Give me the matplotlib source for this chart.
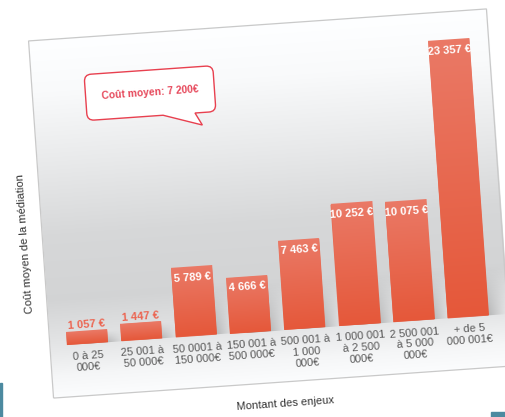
import numpy as np
import matplotlib
matplotlib.use("Agg")
import matplotlib.pyplot as plt
from matplotlib.transforms import Affine2D
from matplotlib.patches import Rectangle, PathPatch
from matplotlib.path import Path

plt.rcParams['font.family'] = ['Liberation Sans', 'DejaVu Sans']

# cost of mediation by amount at stake
categories = ["0 à 25\n000€", "25 001 à\n50 000€", "50 0001 à\n150 000€", "150 001 à\n500 000€",
              "500 001 à\n1 000\n000€", "1 000 001\nà 2 500\n000€", "2 500 001\nà 5 000\n000€",
              "+ de 5\n000 001€"]
values = [1057, 1447, 5789, 4666, 7463, 10252, 10075, 23357]
value_labels = ["1 057 €", "1 447 €", "5 789 €", "4 666 €", "7 463 €", "10 252 €", "10 075 €", "23 357 €"]
avg_label = "Coût moyen: 7 200€"
xlabel = "Montant des enjeux"
ylabel = "Coût moyen de la médiation"

W, H = 506, 417
ANG = 4.0  # the whole chart sits tilted on the page

fig = plt.figure(figsize=(W / 100, H / 100), dpi=100)
fig.patch.set_facecolor('white')
ax = fig.add_axes([40.5 / W, 34.5 / H, 459 / W, 358 / H])
ax.set_axis_off()
ax.set_autoscale_on(False)
ax.set_xlim(-0.692, 7.730)
ax.set_ylim(-4372, 25788)

pos = ax.get_position()
cx = (pos.x0 + pos.width / 2) * W
cy = (pos.y0 + pos.height / 2) * H
rot = Affine2D().rotate_deg_around(cx, cy, ANG)
tdata = ax.transData + rot
taxes = ax.transAxes + rot


def shifted(base, dx, dy):
    return base + Affine2D().translate(dx, dy) + rot


def rgba_column(rgb, n_cols=8):
    # vertical colour ramp as an RGBA block, opaque
    out = np.ones((rgb.shape[0], n_cols, 4))
    out[..., :3] = rgb[:, None, :]
    return out


# background: white top, grey band behind bars, fading out under the labels
stops_y = [0.0, 0.06, 0.145, 0.27, 0.45, 0.65, 0.85, 1.0]
stops_g = [0.99, 0.965, 0.9, 0.83, 0.845, 0.915, 0.98, 1.0]
yy = np.linspace(0, 1, 300)
g = np.interp(yy, stops_y, stops_g)
bg = rgba_column(np.stack([g - 0.004, g, g + 0.004], axis=-1).clip(0, 1))
ax.imshow(bg, extent=(0, 1, 0, 1), origin='lower', aspect='auto', transform=taxes,
          zorder=0, clip_on=False, interpolation='bilinear')
ax.add_patch(Rectangle((0, 0), 1, 1, transform=taxes, fill=False, ec='#c9c9c9', lw=0.9,
                       zorder=1, clip_on=False))

x = np.arange(len(values))
bars = ax.bar(x, values, width=0.75, color='#e8684f', zorder=3)

# soft grey shadows at the lower right of each bar
sh = np.zeros((40, 40, 4))
sy = np.linspace(0, 1, 40)[:, None]
sx = np.linspace(0, 1, 40)[None, :]
sh[..., :3] = 0.42
sh[..., 3] = 0.6 * (1 - sy) ** 1.1 * np.clip((1 - sx) * 1.5, 0, 1) ** 1.1

grad_y = np.linspace(0, 1, 100)[:, None]
top_c = np.array([0.918, 0.475, 0.400])
bot_c = np.array([0.898, 0.345, 0.227])
bar_grad = rgba_column(bot_c + (top_c - bot_c) * grad_y)

for b in bars:
    b.set_transform(tdata)
    b.set_clip_on(False)
    x0, w, h = b.get_x(), b.get_width(), b.get_height()
    sh_h = min(h * 0.9, 4200)
    ax.imshow(sh, extent=(x0 + w * 0.4, x0 + w + 0.33, 0, sh_h), origin='lower', aspect='auto',
              transform=tdata, zorder=2, clip_on=False, interpolation='bilinear')
    ax.imshow(bar_grad, extent=(x0, x0 + w, 0, h), origin='lower', aspect='auto',
              transform=tdata, zorder=4, clip_on=False, interpolation='bilinear')

for xi, v, lab in zip(x, values, value_labels):
    if v < 2000:
        ax.text(xi, v, lab, transform=shifted(ax.transData, 0, 6), rotation=ANG,
                rotation_mode='anchor', ha='center', va='center', fontsize=8,
                fontweight='bold', color='#ec6450', zorder=5, clip_on=False)
    else:
        ax.text(xi, v, lab, transform=shifted(ax.transData, 0, -10), rotation=ANG,
                rotation_mode='anchor', ha='center', va='center', fontsize=8,
                fontweight='bold', color='white', zorder=5, clip_on=False)

for xi, lab in zip(x, categories):
    ax.text(xi, 0, lab, transform=shifted(ax.transData, 0, -7), rotation=ANG,
            rotation_mode='anchor', ha='center', va='top', fontsize=8, color='#5a5a5a',
            linespacing=1.15, zorder=5, clip_on=False)

ax.text(0.504, -0.062, xlabel, transform=taxes, rotation=ANG, rotation_mode='anchor',
        ha='center', va='center', fontsize=8, color='#333333', clip_on=False)
fig.text(25 / W, 1 - 244 / H, ylabel, rotation=90 + ANG, ha='center', va='center',
         fontsize=8, color='#333333')

# speech bubble with the average cost
bw, bh, r = 129, 46, 7
hx, hy = bw / 2, bh / 2
verts = [(11.5, -hy), (-hx + r, -hy), (-hx, -hy), (-hx, -hy + r), (-hx, hy - r), (-hx, hy),
         (-hx + r, hy), (hx - r, hy), (hx, hy), (hx, hy - r), (hx, -hy + r), (hx, -hy),
         (hx - r, -hy), (43.5, -hy), (50, -hy - 12.5), (11.5, -hy)]
codes = [Path.MOVETO, Path.LINETO, Path.CURVE3, Path.CURVE3, Path.LINETO, Path.CURVE3,
         Path.CURVE3, Path.LINETO, Path.CURVE3, Path.CURVE3, Path.LINETO, Path.CURVE3,
         Path.CURVE3, Path.LINETO, Path.LINETO, Path.CLOSEPOLY]
ox, oy = ax.transAxes.transform((0.256, 0.831))
bubble_t = Affine2D().translate(ox, oy) + rot
ax.add_patch(PathPatch(Path(verts, codes), transform=bubble_t, fc='white', ec='#e8404f',
                       lw=1.0, zorder=6, clip_on=False))
ax.text(0, 0, avg_label, transform=bubble_t, rotation=ANG, rotation_mode='anchor',
        ha='center', va='center', fontsize=7.4, fontweight='bold', color='#e6475a',
        zorder=7, clip_on=False)

# edges of neighbouring slides peeking in at the corners
fig.patches.append(Rectangle((0, 0), 2.5 / W, 34 / H, transform=fig.transFigure,
                             color='#4c8aa0', zorder=0))
fig.patches.append(Rectangle((491 / W, 0), 15 / W, 5 / H, transform=fig.transFigure,
                             color='#4c8aa0', zorder=0))

fig.savefig('out.png', dpi=100)
